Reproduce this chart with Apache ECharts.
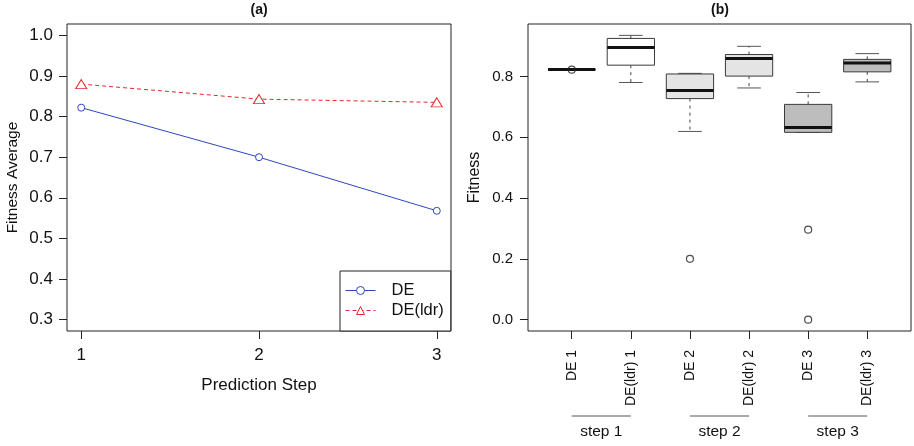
<!DOCTYPE html>
<html><head><meta charset="utf-8">
<script src="https://cdn.jsdelivr.net/npm/echarts@6/dist/echarts.min.js"></script>
<style>html,body{margin:0;padding:0;background:#fff}#c{width:914px;height:446px}</style>
</head><body><div id="c"></div>
<script>
// ---- Panel (a) data ----
const steps = [1, 2, 3];
const deAvg = [0.822, 0.700, 0.568];
const deLdrAvg = [0.880, 0.843, 0.835];
const leftYTicks = [0.3, 0.4, 0.5, 0.6, 0.7, 0.8, 0.9, 1.0];

// ---- Panel (b) data ----
const boxCategories = ['DE 1', 'DE(ldr) 1', 'DE 2', 'DE(ldr) 2', 'DE 3', 'DE(ldr) 3'];
const boxMin    = [0.823, 0.780, 0.619, 0.762, 0.616, 0.782];
const boxQ1     = [0.823, 0.837, 0.727, 0.801, 0.616, 0.815];
const boxMedian = [0.823, 0.8955, 0.754, 0.859, 0.632, 0.844];
const boxQ3     = [0.823, 0.925, 0.808, 0.872, 0.708, 0.856];
const boxMax    = [0.823, 0.935, 0.810, 0.899, 0.747, 0.875];
const outlierCat = ['DE 1', 'DE 2', 'DE 3', 'DE 3'];
const outlierVal = [0.822, 0.200, 0.296, 0.000];
const rightYTicks = [0.0, 0.2, 0.4, 0.6, 0.8];
const stepGroups = ['step 1', 'step 2', 'step 3'];
const stepStart = ['DE 1', 'DE 2', 'DE 3'];
const stepEnd = ['DE(ldr) 1', 'DE(ldr) 2', 'DE(ldr) 3'];

// ---- styles ----
const FONT = 'Liberation Sans, Arial, Helvetica, sans-serif';
const INK = '#111';
const BLUE = '#2f45bf';
const RED = '#e8262b';
const boxFill = ['#ffffff', '#ffffff', '#e4e4e4', '#e4e4e4', '#bdbdbd', '#bdbdbd'];

const catPos = c => boxCategories.indexOf(c) + 1;

function renderBox(params, api) {
  const x = api.value(0);
  const pLo = api.coord([x, api.value(1)]);
  const pQ1 = api.coord([x, api.value(2)]);
  const pMed = api.coord([x, api.value(3)]);
  const pQ3 = api.coord([x, api.value(4)]);
  const pHi = api.coord([x, api.value(5)]);
  const bw = api.size([0.8, 0])[0];
  const cx = pMed[0], h = bw / 2, c = bw / 4;
  const stroke = '#3a3a3a';
  return { type: 'group', children: [
    { type: 'line', shape: { x1: cx, y1: pQ3[1], x2: cx, y2: pHi[1] }, style: { stroke: '#444', lineWidth: 1, lineDash: [3, 4] } },
    { type: 'line', shape: { x1: cx, y1: pQ1[1], x2: cx, y2: pLo[1] }, style: { stroke: '#444', lineWidth: 1, lineDash: [3, 4] } },
    { type: 'line', shape: { x1: cx - c, y1: pHi[1], x2: cx + c, y2: pHi[1] }, style: { stroke: '#555', lineWidth: 1 } },
    { type: 'line', shape: { x1: cx - c, y1: pLo[1], x2: cx + c, y2: pLo[1] }, style: { stroke: '#555', lineWidth: 1 } },
    { type: 'rect', shape: { x: cx - h, y: pQ3[1], width: bw, height: pQ1[1] - pQ3[1] }, style: { fill: boxFill[params.dataIndex], stroke: stroke, lineWidth: 1 } },
    { type: 'line', shape: { x1: cx - h, y1: pMed[1], x2: cx + h, y2: pMed[1] }, style: { stroke: '#111', lineWidth: 3 } }
  ]};
}

function renderStep(params, api) {
  const a = api.coord([api.value(0), 0]);
  const b = api.coord([api.value(1), 0]);
  const bottom = params.coordSys.y + params.coordSys.height;
  return { type: 'group', children: [
    { type: 'line', shape: { x1: a[0], y1: bottom + 85, x2: b[0], y2: bottom + 85 }, style: { stroke: '#555', lineWidth: 1 } },
    { type: 'text', style: { text: stepGroups[params.dataIndex], x: (a[0] + b[0]) / 2, y: bottom + 101, align: 'center', verticalAlign: 'middle', fontSize: 15.5, fontFamily: FONT, fill: INK } }
  ]};
}

const chart = echarts.init(document.getElementById('c'), null, { renderer: 'canvas' });
const axisCommon = {
  axisLine: { show: false, onZero: false },
  splitLine: { show: false },
  axisTick: { show: true, length: 8, lineStyle: { color: '#222' } },
  nameTextStyle: { fontFamily: FONT, color: INK },
};

chart.setOption({
  animation: false,
  backgroundColor: '#fff',
  textStyle: { fontFamily: FONT },
  title: [
    { text: '(a)', left: 250.5, top: 3, padding: 0, textStyle: { fontSize: 14, fontWeight: 'bold', color: INK, fontFamily: FONT } },
    { text: '(b)', left: 711, top: 3, padding: 0, textStyle: { fontSize: 14, fontWeight: 'bold', color: INK, fontFamily: FONT } }
  ],
  grid: [
    { left: 67, top: 24, width: 384, height: 307, show: true, borderColor: '#222', borderWidth: 1, backgroundColor: 'transparent' },
    { left: 528, top: 24, width: 383, height: 307, show: true, borderColor: '#222', borderWidth: 1, backgroundColor: 'transparent' }
  ],
  xAxis: [
    Object.assign({}, axisCommon, {
      type: 'value', gridIndex: 0, min: 0.92, max: 3.08,
      axisTick: Object.assign({}, axisCommon.axisTick, { customValues: steps }),
      axisLabel: { customValues: steps, margin: 16, fontSize: 17, color: INK, fontFamily: FONT, formatter: v => String(v) },
      name: 'Prediction Step', nameLocation: 'middle', nameGap: 46,
      nameTextStyle: { fontSize: 17, color: INK, fontFamily: FONT }
    }),
    Object.assign({}, axisCommon, {
      type: 'value', gridIndex: 1, min: 0.26, max: 6.74,
      axisTick: Object.assign({}, axisCommon.axisTick, { customValues: boxCategories.map(catPos) }),
      axisLabel: { customValues: boxCategories.map(catPos), rotate: 90, margin: 19, fontSize: 14, color: INK, fontFamily: FONT, formatter: v => boxCategories[Math.round(v) - 1] }
    })
  ],
  yAxis: [
    Object.assign({}, axisCommon, {
      type: 'value', gridIndex: 0, min: 0.272, max: 1.028,
      axisTick: Object.assign({}, axisCommon.axisTick, { customValues: leftYTicks }),
      axisLabel: { customValues: leftYTicks, margin: 14, fontSize: 17, color: INK, fontFamily: FONT, formatter: v => v.toFixed(1) },
      name: 'Fitness Average', nameLocation: 'middle', nameGap: 46,
      nameTextStyle: { fontSize: 15.5, color: INK, fontFamily: FONT }
    }),
    Object.assign({}, axisCommon, {
      type: 'value', gridIndex: 1, min: -0.0374, max: 0.9724,
      axisTick: Object.assign({}, axisCommon.axisTick, { customValues: rightYTicks }),
      axisLabel: { customValues: rightYTicks, margin: 15, fontSize: 15, color: INK, fontFamily: FONT, formatter: v => v.toFixed(1) },
      name: 'Fitness', nameLocation: 'middle', nameGap: 45,
      nameTextStyle: { fontSize: 16, color: INK, fontFamily: FONT }
    })
  ],
  legend: {
    data: ['DE', 'DE(ldr)'], orient: 'vertical', left: 340, top: 271,
    borderColor: '#222', borderWidth: 1, borderRadius: 0, backgroundColor: '#fff',
    padding: [11, 7, 12, 5], itemGap: 3, itemWidth: 30, itemHeight: 10,
    itemStyle: { borderWidth: 1 },
    lineStyle: { width: 1 },
    textStyle: { fontSize: 16.5, lineHeight: 17, color: INK, fontFamily: FONT, padding: [0, 0, 0, 11] }
  },
  series: [
    { name: 'DE', type: 'line', xAxisIndex: 0, yAxisIndex: 0,
      data: steps.map((s, i) => [s, deAvg[i]]),
      symbol: 'circle', symbolSize: 7, color: BLUE,
      lineStyle: { width: 1, color: BLUE }, itemStyle: { color: '#fff', borderColor: BLUE, borderWidth: 1 } },
    { name: 'DE(ldr)', type: 'line', xAxisIndex: 0, yAxisIndex: 0,
      data: steps.map((s, i) => [s, deLdrAvg[i]]),
      symbol: 'triangle', symbolSize: [11, 9], color: RED,
      lineStyle: { width: 1, type: [4, 3], color: RED }, itemStyle: { color: '#fff', borderColor: RED, borderWidth: 1 } },
    { name: 'boxes', type: 'custom', xAxisIndex: 1, yAxisIndex: 1,
      data: boxCategories.map((c, i) => [catPos(c), boxMin[i], boxQ1[i], boxMedian[i], boxQ3[i], boxMax[i]]),
      encode: { x: 0, y: [1, 2, 3, 4, 5] }, renderItem: renderBox, silent: true },
    { name: 'outliers', type: 'scatter', xAxisIndex: 1, yAxisIndex: 1,
      data: outlierCat.map((c, i) => [catPos(c), outlierVal[i]]),
      symbol: 'circle', symbolSize: 7, itemStyle: { color: 'rgba(255,255,255,0)', borderColor: '#222', borderWidth: 1.2 }, z: 5 },
    { name: 'steps', type: 'custom', xAxisIndex: 1, yAxisIndex: 1, clip: false, silent: true,
      data: stepGroups.map((g, i) => [catPos(stepStart[i]), catPos(stepEnd[i])]),
      encode: { x: [0, 1] }, renderItem: renderStep }
  ]
});
</script></body></html>
